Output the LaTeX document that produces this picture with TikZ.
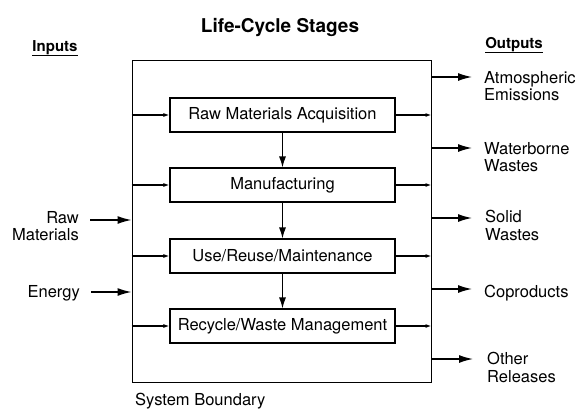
\documentclass[tikz,border=0pt]{standalone}
\usepackage{fontspec}
\setmainfont{TeX Gyre Heros}
\usetikzlibrary{arrows.meta}
\begin{document}
\begin{tikzpicture}[x=1pt,y=-1pt,
  lbl/.style={font=\fontsize{16.5}{17.5}\selectfont, inner sep=0pt},
  stage/.style={draw, line width=1.1pt, minimum width=225pt, minimum height=34pt, inner sep=0pt, font=\fontsize{16.5}{18}\selectfont},
  bnd/.style={draw, line width=1pt, minimum width=299pt, minimum height=322pt, inner sep=0pt},
  hdr/.style={font=\fontsize{15}{18}\selectfont\bfseries, inner sep=0pt, anchor=base},
  bigarrow/.style={line width=1.4pt, -{Latex[length=14pt,width=8pt]}},
  midarrow/.style={line width=1.2pt, -{Latex[length=11pt,width=7pt]}},
  smallarrow/.style={line width=1.2pt, -{Latex[length=6pt,width=4pt]}}]
\useasboundingbox (0,0) rectangle (577,410);
\node[font=\fontsize{19}{22}\selectfont\bfseries, inner sep=0pt, anchor=base] (title) at (280,32) {Life-Cycle Stages};
\node[hdr] (inputs) at (55,51) {\underline{Inputs}};
\node[hdr] (outputs) at (514,48) {\underline{Outputs}};
\node[bnd] (sb) at (281.5,221) {};
\node[stage] (s1) at (282.5,115) {Raw Materials Acquisition};
\node[stage] (s2) at (282.5,185) {Manufacturing};
\node[stage] (s3) at (282.5,256) {Use/Reuse/Maintenance};
\node[stage] (s4) at (282.5,326) {Recycle/Waste Management};
\foreach \s in {s1,s2,s3,s4}{
  \draw[smallarrow] (sb.west |- \s) -- (\s.west);
  \draw[smallarrow] (\s.east) -- (sb.east |- \s);
}
\draw[midarrow] (s1.south) -- (s2.north);
\draw[midarrow] (s2.south) -- (s3.north);
\draw[midarrow] (s3.south) -- (s4.north);
% inputs
\node[lbl, align=right, anchor=north east] (rm) at (79,211) {Raw\\Materials};
\node[lbl, anchor=base east] (en) at (80,297) {Energy};
\coordinate (rmA) at (90,220);
\coordinate (enA) at (91,292);
\draw[bigarrow] (rmA) -- (sb.west |- rmA);
\draw[bigarrow] (enA) -- (sb.west |- enA);
% outputs
\coordinate (o1) at (472,77);
\coordinate (o2) at (472,148);
\coordinate (o3) at (472,218);
\coordinate (o4) at (472,289);
\coordinate (o5) at (473,359);
\foreach \o in {o1,o2,o3,o4,o5}{
  \draw[bigarrow] (sb.east |- \o) -- (\o);
}
\node[lbl, align=left, anchor=north west] (l1) at (484,71) {Atmospheric\\Emissions};
\node[lbl, align=left, anchor=north west] (l2) at (484,142) {Waterborne\\Wastes};
\node[lbl, align=left, anchor=north west] (l3) at (485,210) {Solid\\Wastes};
\node[lbl, anchor=base west] (l4) at (484,297) {Coproducts};
\node[lbl, align=left, anchor=north west] (l5) at (487,352) {Other\\Releases};
\node[lbl, anchor=base west] (sbl) at (135,405) {System Boundary};
\end{tikzpicture}
\end{document}
